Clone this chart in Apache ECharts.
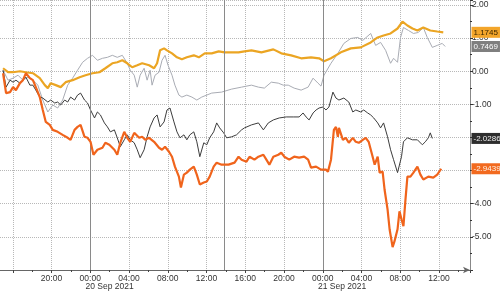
<!DOCTYPE html>
<html><head><meta charset="utf-8">
<script src="https://cdn.jsdelivr.net/npm/echarts@6/dist/echarts.min.js"></script>
<style>html,body{margin:0;padding:0;background:#fff;overflow:hidden;width:500px;height:291px}#c{position:absolute;left:-29px;top:0;width:529px;height:291px}</style>
</head><body><div id="c"></div>
<script>
// x values: hours since 20 Sep 2021 00:00
const xMin = -12, xMax = 39.2;
const yMin = -6, yMax = 2.15;
const sessionLines = [0, 13.87, 24];
const dateLabels = {2: '20 Sep 2021', 26: '21 Sep 2021'};
const lastValues = [1.1745, 0.7469, -2.0286, -2.9439];

const goldData = [[-9.0,0.09],[-8.49,-0.03],[-7.97,-0.03],[-7.26,0.00],[-6.64,-0.03],[-5.92,-0.06],[-5.21,-0.21],[-4.69,-0.42],[-4.38,-0.51],[-4.08,-0.36],[-3.56,-0.42],[-3.05,-0.48],[-2.54,-0.33],[-1.82,-0.27],[-1.10,-0.18],[-0.49,-0.12],[0.23,-0.06],[0.95,-0.03],[1.56,0.09],[2.28,0.24],[2.79,0.27],[3.31,0.33],[3.82,0.24],[4.33,0.12],[4.85,0.18],[5.36,0.24],[6.08,0.18],[6.59,0.09],[6.90,0.24],[7.21,0.63],[7.62,0.69],[7.92,0.63],[8.44,0.54],[8.95,0.42],[9.46,0.36],[9.97,0.42],[10.69,0.48],[11.21,0.42],[11.82,0.54],[12.54,0.54],[13.26,0.60],[13.87,0.57],[14.59,0.57],[15.31,0.57],[15.92,0.60],[16.64,0.63],[17.67,0.57],[18.90,0.66],[19.72,0.54],[20.74,0.48],[21.77,0.39],[22.79,0.42],[23.62,0.39],[24.13,0.30],[24.85,0.39],[25.87,0.57],[26.90,0.69],[27.92,0.72],[28.95,0.87],[29.67,1.02],[30.28,1.08],[31.0,1.14],[31.72,1.29],[32.23,1.50],[32.74,1.38],[33.26,1.29],[33.77,1.23],[34.38,1.32],[35.10,1.23],[35.82,1.20],[36.44,1.1745]];

const lightGrayData = [[-9.0,0.03],[-8.49,-0.27],[-7.97,-0.21],[-7.46,-0.12],[-6.95,-0.27],[-6.44,-0.18],[-5.92,-0.27],[-5.41,-0.42],[-4.90,-0.87],[-4.38,-1.23],[-3.87,-1.02],[-3.36,-1.11],[-2.85,-0.87],[-2.33,-0.42],[-1.82,-0.21],[-1.31,0.03],[-0.79,0.27],[-0.28,0.39],[0.23,0.48],[0.74,0.33],[1.26,0.39],[1.77,0.42],[2.28,0.48],[2.79,0.42],[3.31,0.48],[3.82,0.24],[4.13,0.03],[4.54,-0.12],[4.85,-0.48],[5.15,-0.12],[5.56,0.09],[5.87,-0.27],[6.18,0.03],[6.38,-0.42],[6.69,-0.12],[7.10,-0.03],[7.41,0.33],[7.72,0.48],[8.03,0.18],[8.44,-0.12],[8.74,-0.42],[9.15,-0.72],[9.46,-0.78],[9.97,-0.72],[10.49,-0.78],[11.0,-0.87],[11.51,-0.78],[12.54,-0.66],[13.56,-0.63],[14.59,-0.54],[15.62,-0.48],[16.64,-0.42],[17.36,-0.48],[17.97,-0.51],[18.69,-0.33],[19.41,-0.36],[19.92,-0.42],[20.44,-0.42],[21.05,-0.51],[21.77,-0.57],[22.49,-0.48],[23.0,-0.21],[23.51,-0.36],[23.82,-0.45],[24.13,-0.12],[24.85,0.24],[25.56,0.54],[26.18,0.84],[26.90,0.99],[27.62,1.02],[28.13,0.93],[28.95,1.14],[29.46,0.78],[29.97,0.87],[30.49,0.63],[31.0,0.24],[31.31,0.39],[31.72,0.27],[32.03,1.02],[32.33,1.32],[32.85,1.23],[33.36,1.14],[33.87,1.17],[34.38,1.32],[34.79,1.02],[35.31,0.72],[35.82,0.78],[36.33,0.84],[36.64,0.7469]];

const darkGrayData = [[-9.0,0.03],[-8.69,-0.48],[-8.28,-0.27],[-7.97,-0.33],[-7.67,-0.27],[-7.26,-0.36],[-6.95,-0.27],[-6.64,-0.18],[-6.23,-0.42],[-5.92,-0.42],[-5.62,-0.57],[-5.21,-0.78],[-4.90,-0.81],[-4.38,-0.93],[-4.08,-0.87],[-3.67,-0.96],[-3.36,-0.93],[-3.05,-1.02],[-2.64,-0.87],[-2.33,-0.93],[-2.03,-0.78],[-1.62,-0.87],[-1.31,-0.72],[-1.0,-0.66],[-0.59,-0.87],[-0.28,-0.96],[0.03,-1.17],[0.44,-1.41],[0.74,-1.23],[1.05,-1.32],[1.46,-1.56],[1.77,-1.68],[2.08,-1.83],[2.49,-1.77],[2.79,-2.01],[3.10,-2.28],[3.51,-2.07],[3.82,-1.92],[4.13,-2.07],[4.54,-2.16],[4.85,-2.37],[5.15,-2.61],[5.56,-2.37],[5.87,-1.98],[6.18,-1.68],[6.59,-1.41],[6.90,-1.32],[7.21,-1.68],[7.62,-1.53],[7.92,-1.17],[8.23,-1.11],[8.64,-1.53],[8.95,-1.83],[9.26,-2.01],[9.67,-1.92],[9.97,-2.07],[10.28,-1.92],[10.69,-1.83],[11.0,-2.13],[11.31,-2.58],[11.72,-2.16],[12.03,-2.22],[12.33,-2.01],[12.74,-1.83],[13.05,-1.56],[13.36,-1.71],[13.77,-1.86],[14.08,-2.01],[14.59,-1.98],[15.10,-1.92],[15.62,-1.77],[15.92,-1.71],[16.64,-1.62],[17.36,-1.56],[17.87,-1.77],[18.38,-1.56],[18.90,-1.47],[19.51,-1.41],[20.23,-1.38],[20.95,-1.38],[21.56,-1.38],[21.97,-1.26],[22.28,-1.38],[22.59,-1.47],[23.0,-1.26],[23.31,-1.17],[23.62,-1.11],[24.03,-1.08],[24.33,-1.17],[24.64,-1.08],[25.05,-0.63],[25.36,-0.81],[25.67,-0.87],[26.18,-0.81],[26.69,-0.93],[27.10,-1.23],[27.41,-1.17],[27.92,-1.23],[28.23,-1.17],[28.64,-1.26],[28.95,-1.32],[29.26,-1.41],[29.67,-1.56],[29.97,-1.71],[30.28,-1.56],[30.69,-1.98],[31.0,-2.37],[31.31,-2.67],[31.72,-3.06],[31.82,-3.12],[32.13,-2.58],[32.33,-2.13],[32.74,-2.01],[33.26,-2.07],[33.77,-2.07],[34.28,-2.22],[34.59,-2.13],[34.90,-2.01],[35.10,-1.86],[35.31,-2.0286]];

const orangeData = [[-9.0,-0.06],[-8.69,-0.66],[-8.28,-0.63],[-7.97,-0.48],[-7.67,-0.57],[-7.26,-0.36],[-6.95,-0.27],[-6.64,-0.06],[-6.23,-0.21],[-5.92,-0.27],[-5.62,-0.48],[-5.21,-0.78],[-4.90,-1.17],[-4.59,-1.53],[-4.18,-1.62],[-3.87,-1.77],[-3.36,-1.83],[-2.85,-1.92],[-2.33,-2.01],[-2.03,-2.07],[-1.62,-1.77],[-1.31,-1.68],[-1.0,-1.62],[-0.59,-1.98],[-0.28,-2.01],[0.03,-2.13],[0.33,-2.52],[0.74,-2.37],[1.26,-2.31],[1.56,-2.16],[1.97,-2.22],[2.49,-2.37],[2.79,-2.52],[3.10,-2.16],[3.51,-1.83],[3.82,-2.01],[4.13,-2.13],[4.54,-1.86],[5.05,-2.01],[5.36,-1.98],[5.67,-2.07],[6.08,-2.01],[6.59,-2.13],[7.10,-2.31],[7.41,-2.37],[7.72,-2.28],[8.13,-2.43],[8.44,-2.58],[8.74,-2.88],[9.15,-3.18],[9.36,-3.51],[9.67,-3.12],[9.97,-3.06],[10.28,-2.97],[10.69,-2.88],[11.0,-3.12],[11.31,-3.42],[11.72,-3.36],[12.03,-3.33],[12.33,-3.18],[12.74,-2.88],[13.05,-2.76],[13.56,-2.82],[14.28,-2.82],[14.90,-2.76],[15.31,-2.58],[15.62,-2.67],[16.13,-2.73],[16.44,-2.58],[16.95,-2.67],[17.36,-2.58],[17.87,-2.52],[18.18,-2.67],[18.49,-2.82],[18.90,-2.58],[19.41,-2.52],[19.72,-2.46],[20.03,-2.58],[20.54,-2.67],[21.05,-2.58],[21.56,-2.61],[22.08,-2.58],[22.49,-2.67],[22.79,-2.91],[23.31,-2.88],[23.82,-2.97],[24.33,-2.97],[24.54,-3.03],[24.85,-2.67],[25.15,-1.77],[25.36,-1.68],[25.56,-1.98],[25.67,-1.71],[26.08,-2.07],[26.38,-2.01],[26.69,-2.16],[27.10,-2.01],[27.41,-2.13],[27.72,-2.16],[28.13,-2.07],[28.44,-2.01],[28.74,-2.13],[29.15,-2.58],[29.36,-2.82],[29.67,-2.58],[29.87,-3.06],[30.18,-3.03],[30.38,-3.57],[30.69,-4.17],[30.90,-4.77],[31.21,-5.31],[31.41,-5.13],[31.72,-4.77],[31.92,-4.23],[32.13,-4.47],[32.33,-4.68],[32.54,-3.87],[32.74,-3.18],[33.05,-3.18],[33.36,-3.06],[33.77,-2.88],[34.08,-3.12],[34.38,-3.27],[34.90,-3.18],[35.41,-3.21],[35.82,-3.12],[36.23,-2.9439]];

const FONT = 'Liberation Sans';
function tag(value, bg, fg) {
  return {
    symbol: 'rect', symbolSize: 1, silent: true,
    itemStyle: {color: 'rgba(0,0,0,0)'},
    data: [{coord: [xMax, value]}],
    label: {show: true, position: 'right', distance: 1, formatter: value.toFixed(4),
      backgroundColor: bg, color: fg, fontSize: 8, fontFamily: FONT,
      padding: [2, 2, 1, 2]}
  };
}
function hourLabel(h) {
  const r = Math.round(h * 100) / 100;
  if (Math.abs(r % 4) > 0.01 || r < -6) return '';
  const hh = ((r % 24) + 24) % 24;
  return (hh < 10 ? '0' : '') + hh + ':00';
}
const chart = echarts.init(document.getElementById('c'), null, {renderer: 'canvas'});
chart.setOption({
  animation: false,
  backgroundColor: '#ffffff',
  grid: {left: 0, right: 30, top: 0, bottom: 19, containLabel: false},
  xAxis: [{
    type: 'value', min: xMin, max: xMax, interval: 4, position: 'bottom',
    axisLine: {show: true, onZero: false, symbol: ['none', 'arrow'], symbolSize: [5, 7], lineStyle: {color: '#666', width: 1}},
    axisTick: {show: true, length: 3, lineStyle: {color: '#444'}},
    minorTick: {show: true, splitNumber: 2, length: 2, lineStyle: {color: '#444'}},
    axisLabel: {formatter: hourLabel, fontSize: 8.5, fontFamily: FONT, color: '#333', margin: 4},
    splitLine: {show: true, lineStyle: {type: 'dotted', color: '#b8b8b8', width: 1}}
  }, {
    type: 'value', min: xMin, max: xMax, interval: 2, position: 'bottom',
    axisLine: {show: false, onZero: false}, axisTick: {show: false}, splitLine: {show: false},
    axisLabel: {formatter: h => dateLabels[Math.round(h * 100) / 100] || '', fontSize: 8.5, fontFamily: FONT, color: '#333', margin: 12}
  }],
  yAxis: {
    type: 'value', position: 'right', min: yMin, max: yMax, interval: 1,
    axisLine: {show: true, onZero: false, lineStyle: {color: '#888'}},
    axisTick: {show: true, length: 3, lineStyle: {color: '#333'}},
    minorTick: {show: true, splitNumber: 2, length: 2, lineStyle: {color: '#333'}},
    axisLabel: {formatter: v => {const r = Math.round(v * 100) / 100; return (Number.isInteger(r) && r > yMin) ? r.toFixed(2) : '';},
      fontSize: 8.5, fontFamily: FONT, color: '#333', margin: 2},
    splitLine: {show: true, lineStyle: {type: 'dotted', color: '#b8b8b8', width: 1}}
  },
  series: [{
    name: 'lightGray', type: 'line', data: lightGrayData, showSymbol: false, z: 2,
    lineStyle: {color: '#a9acb4', width: 1},
    markLine: {silent: true, symbol: ['none', 'none'], label: {show: false},
      lineStyle: {color: '#8a8a8a', type: 'solid', width: 1},
      data: sessionLines.map(x => ({xAxis: x}))},
    markPoint: tag(lastValues[1], '#7f7f7f', '#ffffff')
  }, {
    name: 'darkGray', type: 'line', data: darkGrayData, showSymbol: false, z: 3,
    lineStyle: {color: '#3c3c3c', width: 1},
    markPoint: tag(lastValues[2], '#2e2e2e', '#f0f0f0')
  }, {
    name: 'gold', type: 'line', data: goldData, showSymbol: false, z: 4,
    lineStyle: {color: '#eba523', width: 2.2},
    markPoint: tag(lastValues[0], '#f3a52a', '#3a2500')
  }, {
    name: 'orange', type: 'line', data: orangeData, showSymbol: false, z: 5,
    lineStyle: {color: '#f0641c', width: 2.2},
    markPoint: tag(lastValues[3], '#f26a1f', '#fff4ea')
  }]
});
</script>
</body></html>
